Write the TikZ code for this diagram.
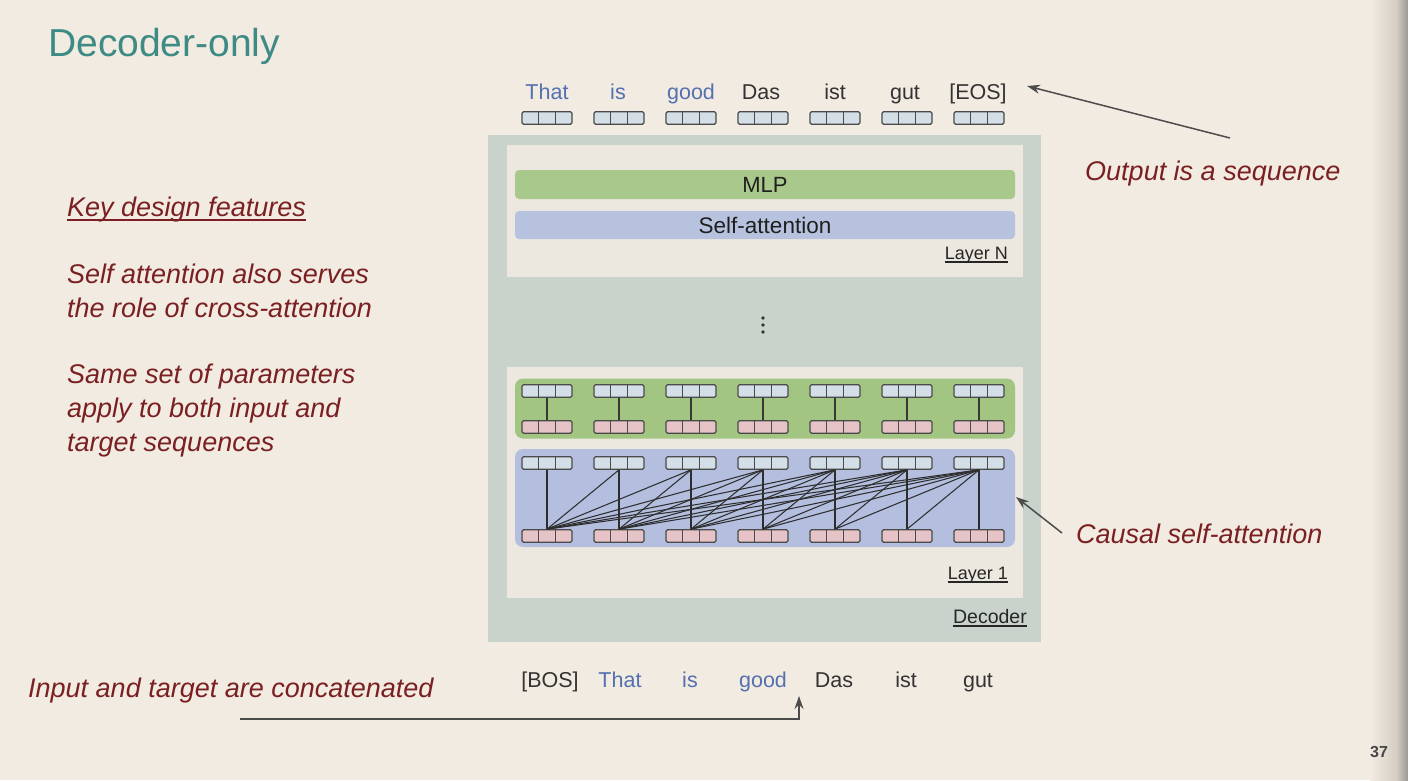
\documentclass[tikz,border=0pt]{standalone}
\usepackage{fontspec}
\setmainfont{Liberation Sans}
\usetikzlibrary{arrows.meta,calc}
\definecolor{bg}{HTML}{F2EBE1}
\definecolor{titlec}{HTML}{3D8B84}
\definecolor{redtxt}{HTML}{7A1F22}
\definecolor{bluetxt}{HTML}{5470B0}
\definecolor{darktxt}{HTML}{333333}
\definecolor{decbox}{HTML}{C9D3CB}
\definecolor{laybox}{HTML}{EDE8DF}
\definecolor{mlpg}{HTML}{A9C98C}
\definecolor{attb}{HTML}{B7C3DE}
\definecolor{regg}{HTML}{A2C582}
\definecolor{regb}{HTML}{B4BFDF}
\definecolor{cellblue}{HTML}{D3DEE6}
\definecolor{cellpink}{HTML}{E6C3C6}
\definecolor{tokdraw}{HTML}{4A4A4A}
\definecolor{edge}{HTML}{9A9894}
\begin{document}
\begin{tikzpicture}[x=1pt,y=-1pt,
  tokb/.style={draw=tokdraw, line width=1.2, rounded corners=1.5, minimum width=50, minimum height=12.5, inner sep=0, fill=#1,
    path picture={\draw[tokdraw, line width=0.9]
      ($(path picture bounding box.south west)!0.3333!(path picture bounding box.south east)$) --
      ($(path picture bounding box.north west)!0.3333!(path picture bounding box.north east)$)
      ($(path picture bounding box.south west)!0.6667!(path picture bounding box.south east)$) --
      ($(path picture bounding box.north west)!0.6667!(path picture bounding box.north east)$);}},
  redtext/.style={anchor=base west, inner sep=0, text=redtxt, font=\fontsize{27}{32}\selectfont\itshape},
  toktext/.style={anchor=base, font=\fontsize{21.5}{26}\selectfont},
  smalllab/.style={anchor=base east, inner sep=0, text=black!85, font=\fontsize{18}{22}\selectfont},
  gline/.style={draw=black!78, line width=1.3},
  aline/.style={draw=black!82, line width=1.05},
  arr/.style={draw=black!70, line width=1.5, -{Stealth[length=13, width=9]}},
]
\useasboundingbox (0,0) rectangle (1408,780);
\fill[bg] (0,0) rectangle (1408,780);
\shade[left color=bg, right color=black!12!bg] (1370,0) rectangle (1396,780);
\shade[left color=black!12!bg, right color=edge] (1396,0) rectangle (1408,780);

% title
\node[anchor=base west, inner sep=0, text=titlec, font=\fontsize{39}{44}\selectfont] (title) at (48,56) {Decoder-only};

% decoder
\fill[decbox] (488,135) rectangle (1041,642);
\fill[laybox] (507,145) rectangle (1023,277);
\node[fill=mlpg, rounded corners=4, minimum width=500, minimum height=29, inner sep=0,
  font=\fontsize{22}{26}\selectfont, text=black!88] (mlp) at (765,184.5) {MLP};
\node[fill=attb, rounded corners=4, minimum width=500, minimum height=28, inner sep=0,
  font=\fontsize{22.5}{26}\selectfont, text=black!88] (sa) at (765,225) {Self-attention};
\node[smalllab] (layN) at (1008,259) {Layer N};
\draw[black!85, line width=1.2] ([yshift=-3]layN.base west) -- ([yshift=-3]layN.base east);

\foreach \yy in {318,325,332} \fill[black!80] (763,\yy) circle (1.8);

\fill[laybox] (507,367) rectangle (1023,598);
\node[fill=regg, rounded corners=8, minimum width=500, minimum height=60, inner sep=0] (mlpreg) at (765,408.5) {};
\node[fill=regb, rounded corners=8, minimum width=500, minimum height=98, inner sep=0] (attn) at (765,498) {};
\node[smalllab] (lay1) at (1008,579) {Layer 1};
\draw[black!85, line width=1.2] ([yshift=-3]lay1.base west) -- ([yshift=-3]lay1.base east);
\node[smalllab, font=\fontsize{19.5}{23}\selectfont] (dec) at (1027,623) {Decoder};
\draw[black!85, line width=1.2] ([yshift=-3]dec.base west) -- ([yshift=-3]dec.base east);

% token boxes
\foreach \i in {1,...,7} {
  \pgfmathsetmacro\cx{547+72*(\i-1)}
  \node[tokb=cellblue] (o\i) at (\cx,118) {};
  \node[tokb=cellblue] (gt\i) at (\cx,391) {};
  \node[tokb=cellpink] (gb\i) at (\cx,427) {};
  \node[tokb=cellblue] (at\i) at (\cx,463) {};
  \node[tokb=cellpink] (ab\i) at (\cx,536) {};
}
\foreach \i in {1,...,7} \draw[gline] (gt\i) -- (gb\i);
\foreach \i in {1,...,7} {
  \foreach \j in {1,...,\i} {
    \draw[aline] (at\i.south) -- (ab\j.north);
  }
}

% output tokens
\node[toktext, text=bluetxt] (t1) at (547,99) {That};
\node[toktext, text=bluetxt] (t2) at (618,99) {is};
\node[toktext, text=bluetxt] (t3) at (691,99) {good};
\node[toktext, text=darktxt] (t4) at (761,99) {Das};
\node[toktext, text=darktxt] (t5) at (835,99) {ist};
\node[toktext, text=darktxt] (t6) at (905,99) {gut};
\node[toktext, text=darktxt] (eos) at (978,99) {[EOS]};

% input tokens
\node[toktext, text=darktxt] (b1) at (550,687) {[BOS]};
\node[toktext, text=bluetxt] (b2) at (620,687) {That};
\node[toktext, text=bluetxt] (b3) at (690,687) {is};
\node[toktext, text=bluetxt] (b4) at (763,687) {good};
\node[toktext, text=darktxt] (b5) at (834,687) {Das};
\node[toktext, text=darktxt] (b6) at (906,687) {ist};
\node[toktext, text=darktxt] (b7) at (978,687) {gut};

% left texts
\node[redtext] (key) at (67,216) {Key design features};
\draw[redtxt, line width=1.2] ([yshift=-4]key.base west) -- ([yshift=-4]key.base east);
\node[redtext] (f1a) at (67,283) {Self attention also serves};
\node[redtext] (f1b) at (67,317) {the role of cross-attention};
\node[redtext] (f2a) at (67,383) {Same set of parameters};
\node[redtext] (f2b) at (67,417) {apply to both input and};
\node[redtext] (f2c) at (67,451) {target sequences};
\node[redtext] (concat) at (28,697) {Input and target are concatenated};
\node[redtext] (outseq) at (1085,180) {Output is a sequence};
\node[redtext] (causal) at (1076,543) {Causal self-attention};

% arrows
\coordinate (outtail) at (1230,138);
\coordinate (outtip) at (1027,86);
\draw[arr] (outtail) -- (outtip);
\coordinate (caustail) at (1062,533);
\coordinate (caustip) at (1016,497);
\draw[arr] (caustail) -- (caustip);
\coordinate (cattail) at (240,719);
\coordinate (cattip) at (799,696);
\draw[arr] (cattail) -| (cattip);

\node[anchor=base, text=black!72, font=\fontsize{16}{19}\selectfont\bfseries] (pg) at (1379,757) {37};
\end{tikzpicture}
\end{document}
